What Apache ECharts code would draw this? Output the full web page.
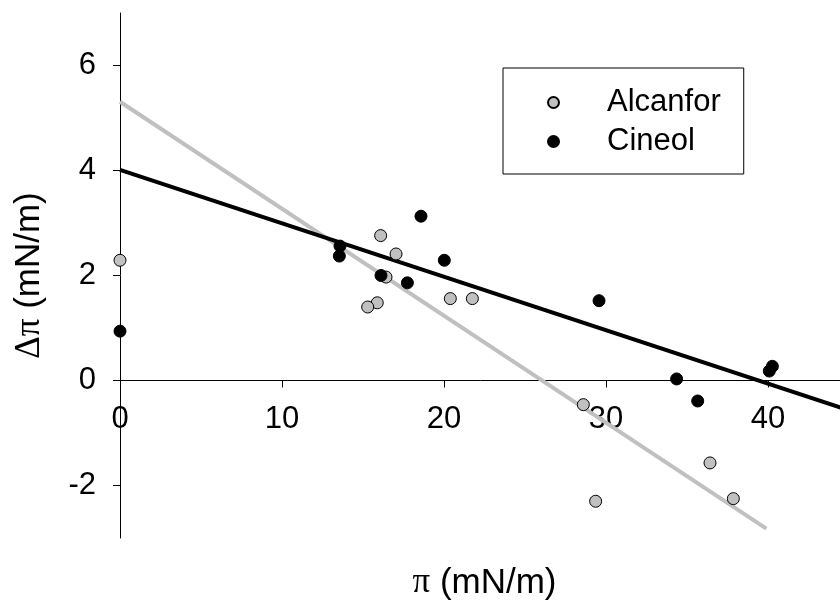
<!DOCTYPE html>
<html>
<head>
<meta charset="utf-8">
<script src="https://cdn.jsdelivr.net/npm/echarts@6/dist/echarts.min.js"></script>
<style>html,body{margin:0;padding:0;background:#fff}#c{width:840px;height:600px}</style>
</head>
<body>
<div id="c"></div>
<script>
// Data
const seriesNames = ['Alcanfor', 'Cineol'];
const alcanfor = [
  [0, 2.29], [16.09, 2.76], [17.04, 2.41], [16.42, 1.97], [15.88, 1.48], [15.29, 1.40],
  [20.39, 1.56], [21.75, 1.56], [28.6, -0.46], [29.36, -2.30], [36.42, -1.57], [37.86, -2.25]
];
const cineol = [
  [0, 0.94], [13.58, 2.56], [13.54, 2.37], [18.58, 3.13], [20.02, 2.29], [16.11, 2.0],
  [17.74, 1.86], [29.57, 1.52], [34.36, 0.03], [35.66, -0.39], [40.27, 0.27], [40.08, 0.18]
];
const alcanforFit = [[0, 5.31], [39.9, -2.82]];
const cineolFit = [[0, 4.01], [45, -0.57]];
const xTicks = [0, 10, 20, 30, 40];
const yTicks = [-2, 0, 2, 4, 6];

const FONT = '"Liberation Sans", Arial, sans-serif';
const GRID_H = 525, Y_MIN = -3, Y_MAX = 7;
// x axis sits at y = 0: offset it up from the grid bottom
const xOffset = -GRID_H * (0 - Y_MIN) / (Y_MAX - Y_MIN);
const chart = echarts.init(document.getElementById('c'), null, {renderer: 'canvas'});
chart.setOption({
  animation: false,
  backgroundColor: '#fff',
  grid: {left: 120, top: 13, width: 729, height: GRID_H, containLabel: false, outerBoundsMode: 'none'},
  legend: {
    data: seriesNames,
    orient: 'vertical',
    left: 503, top: 68,
    padding: [19, 23, 17, 44],
    itemWidth: 11, itemHeight: 11, itemGap: 8,
    borderColor: '#000', borderWidth: 1,
    textStyle: {fontFamily: FONT, fontSize: 31, color: '#000', lineHeight: 31, padding: [0, 0, 0, 43]}
  },
  xAxis: {
    type: 'value', min: 0, max: 45, position: 'bottom', offset: xOffset,
    name: '{g|π} (mN/m)', nameLocation: 'middle', nameGap: 185,
    nameTextStyle: {fontFamily: FONT, fontSize: 35, color: '#000',
      rich: {g: {fontFamily: '"Liberation Serif", serif', fontSize: 35, color: '#000'}}},
    axisLine: {show: true, onZero: false, lineStyle: {color: '#000', width: 1}},
    axisTick: {show: true, length: 7, customValues: xTicks, lineStyle: {color: '#000'}},
    axisLabel: {customValues: xTicks, margin: 23, fontFamily: FONT, fontSize: 31, color: '#000'},
    splitLine: {show: false}
  },
  yAxis: {
    type: 'value', min: Y_MIN, max: Y_MAX,
    name: '{g|Δπ} (mN/m)', nameLocation: 'middle', nameGap: 73,
    nameTextStyle: {fontFamily: FONT, fontSize: 35, color: '#000',
      rich: {g: {fontFamily: '"Liberation Serif", serif', fontSize: 35, color: '#000'}}},
    axisLine: {show: true, onZero: false, lineStyle: {color: '#000', width: 1}},
    axisTick: {show: true, length: 7, customValues: yTicks, lineStyle: {color: '#000'}},
    axisLabel: {customValues: yTicks, margin: 24, fontFamily: FONT, fontSize: 31, color: '#000'},
    splitLine: {show: false}
  },
  series: [
    {name: 'Alcanfor fit', type: 'line', data: alcanforFit, symbol: 'none', z: 1,
      lineStyle: {color: '#c0c0c0', width: 4}, silent: true},
    {name: 'Cineol fit', type: 'line', data: cineolFit, symbol: 'none', z: 1,
      lineStyle: {color: '#000', width: 4}, silent: true},
    {name: 'Alcanfor', type: 'scatter', data: alcanfor, symbol: 'circle', symbolSize: 12, z: 3,
      itemStyle: {color: '#c0c0c0', borderColor: '#000', borderWidth: 1, opacity: 1}},
    {name: 'Cineol', type: 'scatter', data: cineol, symbol: 'circle', symbolSize: 12, z: 4,
      itemStyle: {color: '#000', borderColor: '#000', borderWidth: 1, opacity: 1}}
  ]
});
</script>
</body>
</html>
